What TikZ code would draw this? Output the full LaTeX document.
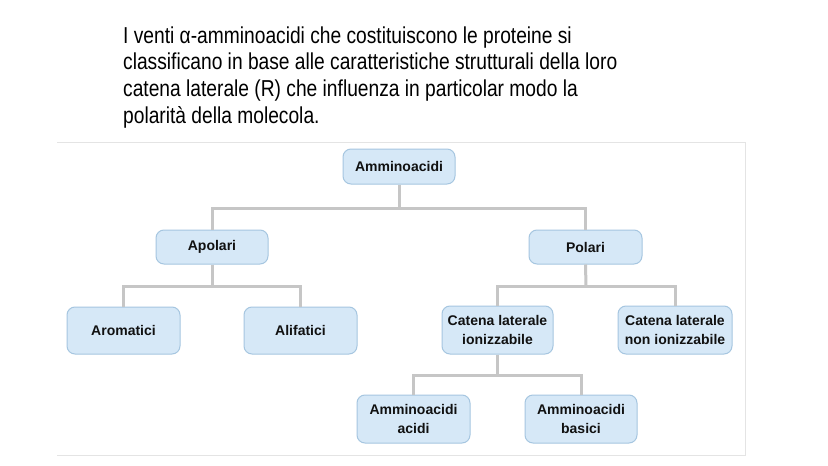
\documentclass[tikz,border=0pt]{standalone}
\usepackage{fontspec}
\setmainfont{Liberation Sans}
\definecolor{boxfill}{HTML}{D6E8F7}
\definecolor{boxline}{HTML}{A6C6E0}
\definecolor{linkc}{HTML}{C6C6C6}
\definecolor{framec}{HTML}{E4E4E4}
\definecolor{txt}{HTML}{111111}
\begin{document}
\begin{tikzpicture}[x=1pt,y=-1pt,
  cat/.style={draw=boxline, line width=1pt, fill=boxfill, rounded corners=8pt,
    minimum height=#1, inner sep=0pt, align=center, text=txt,
    font=\fontsize{14}{19}\selectfont\bfseries},
  cat/.default=34pt,
  link/.style={draw=linkc, line width=3pt}]
\useasboundingbox (0,0) rectangle (828,466);
\fill[white] (0,0) rectangle (828,466);
% frame
\draw[framec, line width=0.8pt] (57,142) -- (745,142) -- (745,455) -- (57,455);
% title
\node[anchor=north west, inner sep=0pt, text=black] (title) at (123,24)
  {\scalebox{1}[1.2]{\fontsize{19.2}{22.4}\selectfont
   \begin{tabular}{@{}l@{}}
   I venti α-amminoacidi che costituiscono le proteine si\\
   classificano in base alle caratteristiche strutturali della loro\\
   catena laterale (R) che influenza in particolar modo la\\
   polarità della molecola.
   \end{tabular}}};
% nodes
\node[cat=35pt, minimum width=112pt] (amm) at (399,166.5) {Amminoacidi};
\node[cat, minimum width=112pt] (apo) at (212,247) {Apolari};
\node[cat, minimum width=113pt] (pol) at (585.5,247) {Polari};
\node[cat=47pt, minimum width=113pt] (aro) at (123.5,330.5) {Aromatici};
\node[cat=47pt, minimum width=113pt] (ali) at (300.5,330.5) {Alifatici};
\node[cat=48pt, minimum width=111pt] (ion) at (497.5,330) {Catena laterale\\ionizzabile};
\node[cat=48pt, minimum width=114pt] (non) at (675,330) {Catena laterale\\non ionizzabile};
\node[cat=48pt, minimum width=113pt] (aci) at (413.5,419) {Amminoacidi\\acidi};
\node[cat=48pt, minimum width=112pt] (bas) at (581,419) {Amminoacidi\\basici};
% connectors
\coordinate (j1) at (399,208);
\coordinate (j2) at (212,286);
\coordinate (j3) at (586,286);
\coordinate (j4) at (497.5,375);
\draw[link] (amm.south) -- (j1);
\draw[link] (j1) -| (apo.north);
\draw[link] (j1) -| (pol.north);
\draw[link] (apo.south) -- (j2);
\draw[link] (j2) -| (aro.north);
\draw[link] (j2) -| (ali.north);
\draw[link] (pol.south) -- (j3);
\draw[link] (j3) -| (ion.north);
\draw[link] (j3) -| (non.north);
\draw[link] (ion.south) -- (j4);
\draw[link] (j4) -| (aci.north);
\draw[link] (j4) -| (bas.north);
\end{tikzpicture}
\end{document}
